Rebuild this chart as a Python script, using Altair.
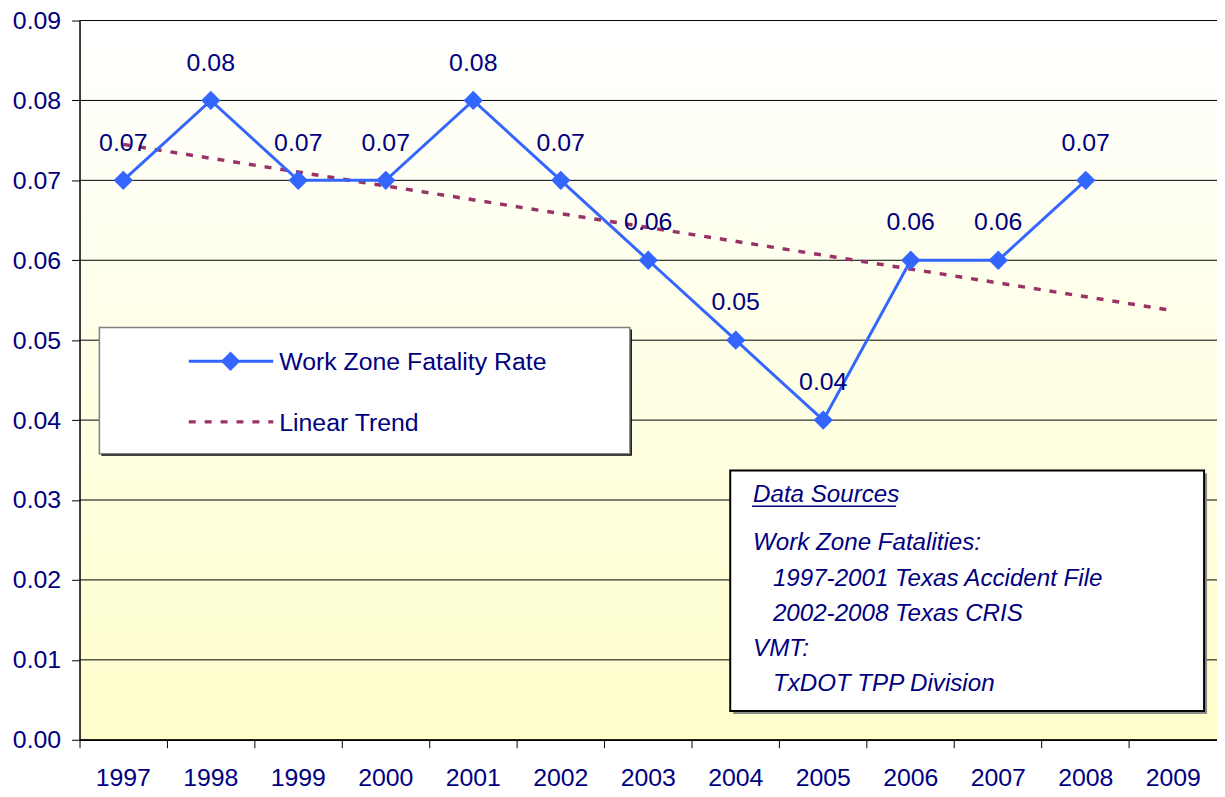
import altair as alt
import pandas as pd

# ---- data ----
years = [str(y) for y in range(1997, 2010)]
rate_years = [str(y) for y in range(1997, 2009)]
rates = [0.07, 0.08, 0.07, 0.07, 0.08, 0.07, 0.06, 0.05, 0.04, 0.06, 0.06, 0.07]
rate_labels = ["0.07", "0.08", "0.07", "0.07", "0.08", "0.07", "0.06", "0.05", "0.04", "0.06", "0.06", "0.07"]
trend_years = ["1997", "2009"]
trend_values = [0.0745, 0.0537]
y_ticks = [0.00, 0.01, 0.02, 0.03, 0.04, 0.05, 0.06, 0.07, 0.08, 0.09]

legend_names = ["Work Zone Fatality Rate", "Linear Trend"]
source_title = "Data Sources"
source_lines = ["Work Zone Fatalities:", "1997-2001 Texas Accident File", "2002-2008 Texas CRIS",
                "VMT:", "TxDOT TPP Division"]

W, H = 1145, 724
NAVY = "#000080"
BLUE = "#3366FF"
MAROON = "#993366"
FONT = "Liberation Sans"

rate_df = pd.DataFrame({"year": rate_years, "rate": rates, "label": rate_labels})
trend_df = pd.DataFrame({"year": trend_years, "rate": trend_values})
grid_df = pd.DataFrame({"rate": y_ticks})

x_enc = alt.X(
    "year:O",
    scale=alt.Scale(type="band", domain=years, paddingInner=0, paddingOuter=0),
    axis=alt.Axis(title=None, bandPosition=0, labelAngle=0, labelFontSize=25, labelColor=NAVY,
                  labelFont=FONT, tickSize=8, tickColor="#000000", tickWidth=1,
                  domainColor="#000000", domainWidth=1.5, labelPadding=18, grid=False, zindex=1),
)
y_enc = alt.Y(
    "rate:Q",
    scale=alt.Scale(domain=[0, 0.09], nice=False, zero=True),
    axis=alt.Axis(title=None, values=y_ticks, format=".2f", labelFontSize=25, labelColor=NAVY,
                  labelFont=FONT, tickSize=8, tickColor="#000000", domainColor="#000000",
                  domainWidth=1.5, labelPadding=11, grid=False, zindex=1),
)

one = pd.DataFrame({"k": [0]})

background = alt.Chart(one).mark_rect(
    color=alt.LinearGradient(gradient="linear", x1=0, x2=0, y1=0, y2=1,
                             stops=[alt.GradientStop(offset=0, color="#FFFFFF"),
                                    alt.GradientStop(offset=1, color="#FFFFCC")])
).encode(x=alt.value(0), x2=alt.value(W), y=alt.value(0), y2=alt.value(H))

grid = alt.Chart(grid_df).mark_rule(color="#000000", strokeWidth=1).encode(
    y=y_enc, x=alt.value(0), x2=alt.value(W))

trend = alt.Chart(trend_df).mark_line(color=MAROON, strokeWidth=3.5, strokeDash=[7, 9]).encode(x=x_enc, y=y_enc)
line = alt.Chart(rate_df).mark_line(color=BLUE, strokeWidth=3).encode(x=x_enc, y=y_enc)
points = alt.Chart(rate_df).mark_point(shape="diamond", filled=True, size=380, color=BLUE, opacity=1).encode(x=x_enc, y=y_enc)
labels = alt.Chart(rate_df).mark_text(dy=-38, fontSize=25, font=FONT, color=NAVY).encode(x=x_enc, y=y_enc, text="label:N")


def box(x1, x2, y1, y2, stroke, sw, shadow, off):
    sh = alt.Chart(one).mark_rect(fill=shadow, stroke=None).encode(
        x=alt.value(x1 + off), x2=alt.value(x2 + off), y=alt.value(y1 + off), y2=alt.value(y2 + off))
    bx = alt.Chart(one).mark_rect(fill="#FFFFFF", stroke=stroke, strokeWidth=sw).encode(
        x=alt.value(x1), x2=alt.value(x2), y=alt.value(y1), y2=alt.value(y2))
    return [sh, bx]


def txt(s, x, y, size=25, italic=False):
    return alt.Chart(pd.DataFrame({"t": [s]})).mark_text(
        align="left", baseline="middle", fontSize=size, font=FONT, color=NAVY,
        fontStyle="italic" if italic else "normal").encode(x=alt.value(x), y=alt.value(y), text="t:N")


OY = -2  # vertical shift so decorations keep their page position
legend_layers = box(20, 554, 311 + OY, 438 + OY, "#808080", 1.5, "#000000", 2)
legend_layers += [
    alt.Chart(one).mark_rule(color=BLUE, strokeWidth=3).encode(x=alt.value(110), x2=alt.value(195), y=alt.value(345 + OY)),
    alt.Chart(one).mark_point(shape="diamond", filled=True, size=380, color=BLUE, opacity=1).encode(x=alt.value(152), y=alt.value(345 + OY)),
    txt(legend_names[0], 201, 346 + OY),
    alt.Chart(one).mark_rule(color=MAROON, strokeWidth=3.5, strokeDash=[7, 9]).encode(x=alt.value(110), x2=alt.value(195), y=alt.value(406 + OY)),
    txt(legend_names[1], 201, 407 + OY),
]

FS = 24.3
note_layers = box(655, 1132, 455 + OY, 697 + OY, "#000000", 2, "#8c8c8c", 3)
note_layers += [
    txt(source_title, 678, 480 + OY, FS, True),
    alt.Chart(one).mark_rule(color=NAVY, strokeWidth=1.5).encode(x=alt.value(677), x2=alt.value(822), y=alt.value(491 + OY)),
    txt(source_lines[0], 678, 528 + OY, FS, True),
    txt(source_lines[1], 698, 564 + OY, FS, True),
    txt(source_lines[2], 698, 599 + OY, FS, True),
    txt(source_lines[3], 678, 635 + OY, FS, True),
    txt(source_lines[4], 698, 670 + OY, FS, True),
]

chart = alt.layer(background, grid, trend, line, points, labels, *legend_layers, *note_layers).properties(
    width=W, height=H,
    autosize=alt.AutoSizeParams(type="none"),
    padding={"left": 72, "top": 10, "right": 0, "bottom": 54},
).configure_view(
    stroke=None,
).configure(background="#FFFFFF")

chart.save("out.html", embed_options={"renderer": "svg", "actions": False})
